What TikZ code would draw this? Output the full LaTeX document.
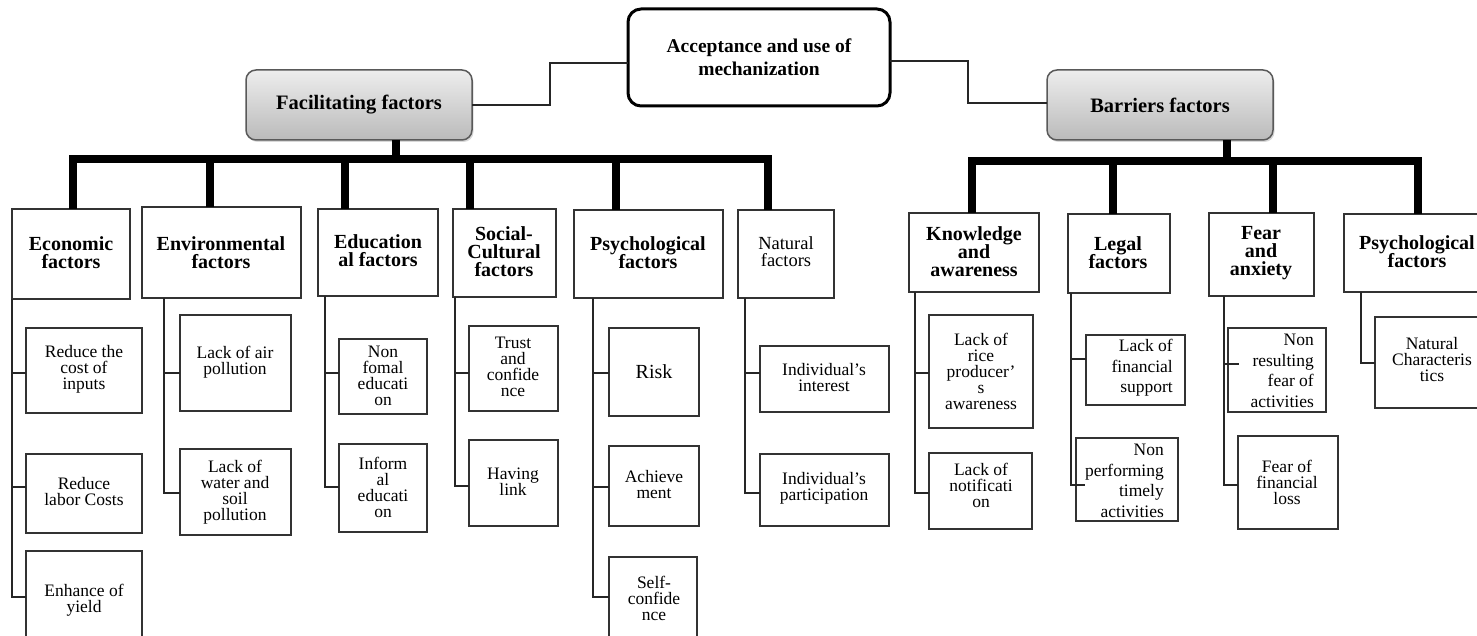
\documentclass[tikz,border=0pt]{standalone}
\usepackage{fontspec}
\setmainfont{Liberation Serif}
\usetikzlibrary{shadows,calc}
\newcommand{\bx}[5]{\node[box, minimum width={#4-#2}, minimum height={#5-#3}] (#1) at ({(#2+#4)/2},{(#3+#5)/2}) {};}
\newcommand{\tightls}{\lineskiplimit -50pt\relax}
\tikzset{
  box/.style={draw=black!80, line width=1.5pt, outer sep=0pt, inner sep=0pt, fill=white},
  hdr/.style={font={\bfseries\fontsize{20}{18}\selectfont\tightls}, align=center, inner sep=0pt},
  hdrn/.style={font={\fontsize{18.5}{17}\selectfont\tightls}, align=center, inner sep=0pt},
  leaf/.style={font={\fontsize{17.5}{16}\selectfont\tightls}, align=center, inner sep=0pt},
  leafr/.style={font={\fontsize{17.5}{20.5}\selectfont\tightls}, align=right, inner sep=0pt, anchor=east},
  conn/.style={draw=black!85, line width=1.5pt},
  bus/.style={draw=black, line width=8pt},
  grey/.style={draw=black!65, line width=1.5pt, rounded corners=10pt, top color=black!7, bottom color=black!27,
    drop shadow={shadow xshift=1.5pt, shadow yshift=-2pt, opacity=0.3}, inner sep=0pt, outer sep=0pt,
    font={\bfseries\fontsize{20.5}{16}\selectfont}},
}
\begin{document}
\begin{tikzpicture}[x=1pt,y=-1pt]
\useasboundingbox (0,0) rectangle (1477,636);
\clip (0,0) rectangle (1477,636);
\fill[white] (0,0) rectangle (1477,636);
% top
\node[draw=black, line width=3pt, rounded corners=13pt, fill=white, minimum width=262, minimum height=97,
  inner sep=0pt, outer sep=0pt, align=center, font={\bfseries\fontsize{19.5}{23}\selectfont}] (main) at (759,57.5)
  {Acceptance and use of\\mechanization};
\node[grey, minimum width=226, minimum height=70] (facil) at (359,105) {Facilitating factors};
\node[grey, minimum width=226, minimum height=70] (barr) at (1160,105) {Barriers factors};
\draw[conn] ([yshift=-5.5pt]main.west) -- ++(-78,0) |- (facil.east);
\draw[conn] ([yshift=-3.5pt]main.east) -- ++(78,0) |- ([yshift=2pt]barr.west);
% branch y coordinates
\coordinate (busL) at (396,159);
\coordinate (busR) at (1227,161);
\foreach \v in {359,363,364,373,485,486,487,493,597} {\coordinate (y\v) at (0,\v);}
% level 1 boxes
\bx{econ}{12}{209}{130}{299}
\bx{env}{142}{207}{301}{298}
\bx{edu}{318}{209}{438}{296}
\bx{soc}{453}{209}{556}{297}
\bx{psy}{574}{210}{723}{298}
\bx{nat}{738}{210}{834}{298}
\bx{know}{909}{213}{1039}{292}
\bx{legal}{1068}{214}{1170}{293}
\bx{fear}{1209}{213}{1314}{296}
\bx{psyr}{1344}{214}{1485}{292}
\node[hdr] (econ-t) at (71,253) {Economic\\factors};
\node[hdr] (env-t) at (221,253) {Environmental\\factors};
\node[hdr] (edu-t) at (378,251) {Education\\al factors};
\node[hdr] (soc-t) at (504,252) {Social-\\Cultural\\factors};
\node[hdr] (psy-t) at (648,253) {Psychological\\factors};
\node[hdrn] (nat-t) at (786,252) {Natural\\factors};
\node[hdr] (know-t) at (974,252) {Knowledge\\and\\awareness};
\node[hdr] (legal-t) at (1118,253) {Legal\\factors};
\node[hdr] (fear-t) at (1261,253) {Fear\\and\\anxiety};
\node[hdr] (psyr-t) at (1417,252) {Psychological\\factors};
% buses
\draw[bus] (facil.south -| busL) -- (busL);
\draw[bus] ([xshift=1.5pt]econ.north) |- (busL) -| ([xshift=-18pt]nat.north);
\draw[bus] ([xshift=-12pt]env.north) -- ([xshift=-12pt]env.north |- busL);
\draw[bus] ([xshift=-33pt]edu.north) -- ([xshift=-33pt]edu.north |- busL);
\draw[bus] ([xshift=-34.5pt]soc.north) -- ([xshift=-34.5pt]soc.north |- busL);
\draw[bus] ([xshift=-32.5pt]psy.north) -- ([xshift=-32.5pt]psy.north |- busL);
\draw[bus] (barr.south -| busR) -- (busR);
\draw[bus] ([xshift=-2pt]know.north) |- (busR) -| ([xshift=3.5pt]psyr.north);
\draw[bus] ([xshift=-6pt]legal.north) -- ([xshift=-6pt]legal.north |- busR);
\draw[bus] ([xshift=11.5pt]fear.north) -- ([xshift=11.5pt]fear.north |- busR);
% leaves
\bx{e1}{26}{328}{142}{413}
\bx{e2}{26}{454}{142}{533}
\bx{e3}{26}{551}{142}{660}
\bx{v1}{180}{315}{291}{411}
\bx{v2}{180}{449}{291}{535}
\bx{d1}{339}{339}{427}{414}
\bx{d2}{339}{444}{427}{532}
\bx{s1}{469}{326}{558}{411}
\bx{s2}{469}{440}{558}{526}
\bx{p1}{609}{328}{699}{416}
\bx{p2}{609}{446}{699}{526}
\bx{p3}{609}{557}{697}{660}
\bx{n1}{760}{346}{889}{412}
\bx{n2}{760}{454}{889}{526}
\bx{k1}{929}{315}{1033}{428}
\bx{k2}{929}{453}{1032}{529}
\bx{l1}{1086}{335}{1185}{405}
\bx{l2}{1076}{438}{1178}{521}
\bx{f1}{1228}{328}{1326}{412}
\bx{f2}{1238}{436}{1338}{529}
\bx{r1}{1375}{317}{1490}{408}
\node[leaf] (e1-t) at (84,369) {Reduce the\\cost of\\inputs};
\node[leaf] (e2-t) at (84,492) {Reduce\\labor Costs};
\node[leaf] (e3-t) at (84,600) {Enhance of\\yield};
\node[leaf] (v1-t) at (235,362) {Lack of air\\pollution};
\node[leaf] (v2-t) at (235,492) {Lack of\\water and\\soil\\pollution};
\node[leaf] (d1-t) at (383,376) {Non\\fomal\\educati\\on};
\node[leaf] (d2-t) at (383,487) {Inform\\al\\educati\\on};
\node[leaf] (s1-t) at (513,367) {Trust\\and\\confide\\nce};
\node[leaf] (s2-t) at (513,482) {Having\\link};
\node[leaf, font={\fontsize{20}{16}\selectfont}] (p1-t) at (654,372) {Risk};
\node[leaf] (p2-t) at (654,485) {Achieve\\ment};
\node[leaf] (p3-t) at (654,598) {Self-\\confide\\nce};
\node[leaf] (n1-t) at (824,378) {Individual’s\\interest};
\node[leaf] (n2-t) at (824,488) {Individual’s\\participation};
\node[leaf] (k1-t) at (981,371) {Lack of\\rice\\producer’\\s\\awareness};
\node[leaf] (k2-t) at (981,485) {Lack of\\notificati\\on};
\node[leafr] (l1-t) at (1173,368) {Lack of\\financial\\support};
\node[leafr] (l2-t) at (1164,481) {Non\\performing\\timely\\activities};
\node[leafr] (f1-t) at (1314,371) {Non\\resulting\\fear of\\activities};
\node[leaf] (f2-t) at (1287,482) {Fear of\\financial\\loss};
\node[leaf] (r1-t) at (1432,360) {Natural\\Characteris\\tics};
% spines
\coordinate (econ-s) at (econ.south west);
\coordinate (env-s) at ([xshift=22pt]env.south west);
\coordinate (edu-s) at ([xshift=7pt]edu.south west);
\coordinate (soc-s) at ([xshift=2pt]soc.south west);
\coordinate (psy-s) at ([xshift=19pt]psy.south west);
\coordinate (nat-s) at ([xshift=7pt]nat.south west);
\coordinate (know-s) at ([xshift=6pt]know.south west);
\coordinate (legal-s) at ([xshift=3pt]legal.south west);
\coordinate (fear-s) at ([xshift=15pt]fear.south west);
\coordinate (psyr-s) at ([xshift=17pt]psyr.south west);
\coordinate (l2-in) at ([xshift=9pt]l2.west);
\coordinate (f1-in) at ([xshift=11pt]f1.west);
\draw[conn] (econ-s) |- (e3.west |- y597);
\draw[conn] (econ-s |- y373) -- (e1.west |- y373);
\draw[conn] (econ-s |- y487) -- (e2.west |- y487);
\draw[conn] (env-s) |- (v2.west |- y493);
\draw[conn] (env-s |- y373) -- (v1.west |- y373);
\draw[conn] (edu-s) |- (d2.west |- y487);
\draw[conn] (edu-s |- y373) -- (d1.west |- y373);
\draw[conn] (soc-s) |- (s2.west |- y486);
\draw[conn] (soc-s |- y373) -- (s1.west |- y373);
\draw[conn] (psy-s) |- (p3.west |- y597);
\draw[conn] (psy-s |- y373) -- (p1.west |- y373);
\draw[conn] (psy-s |- y487) -- (p2.west |- y487);
\draw[conn] (nat-s) |- (n2.west |- y493);
\draw[conn] (nat-s |- y373) -- (n1.west |- y373);
\draw[conn] (know-s) |- (k2.west |- y493);
\draw[conn] (know-s |- y373) -- (k1.west |- y373);
\draw[conn] (legal-s) |- (l2-in |- y485);
\draw[conn] (legal-s |- y359) -- (l1.west |- y359);
\draw[conn] (fear-s) |- (f2.west |- y485);
\draw[conn] (fear-s |- y364) -- (f1-in |- y364);
\draw[conn] (psyr-s) |- (r1.west |- y363);
\end{tikzpicture}
\end{document}
